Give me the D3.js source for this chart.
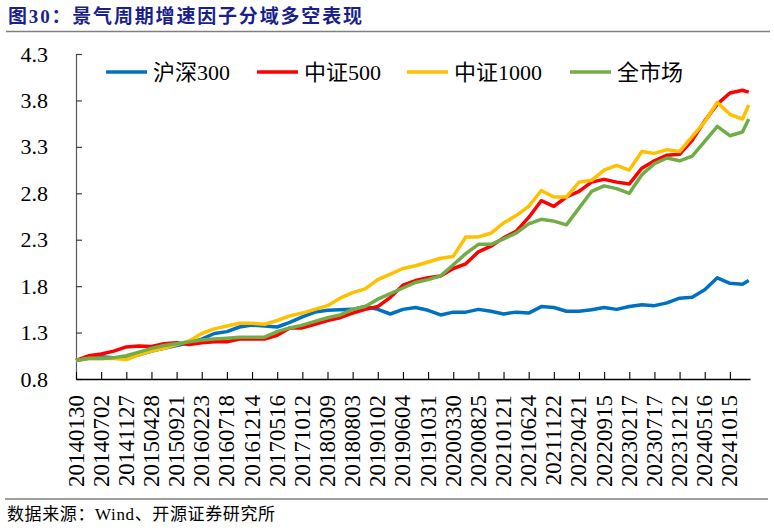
<!DOCTYPE html>
<html>
<head>
<meta charset="utf-8">
<script src="https://cdn.jsdelivr.net/npm/d3@7"></script>
<style>
  html, body { margin: 0; padding: 0; background: #fff; }
  svg { display: block; }
  text { font-family: "Liberation Serif", "Times New Roman", "Noto Sans CJK SC", serif; }
</style>
</head>
<body>
<svg id="chart" width="774" height="530"></svg>
<script>
// ---------- data ----------
const title = "图30：景气周期增速因子分域多空表现";
const source = "数据来源：Wind、开源证券研究所";

// x-axis tick labels (one every 100 trading days)
const tickLabels = ["20140130","20140702","20141127","20150428","20150921","20160223",
  "20160718","20161214","20170516","20171012","20180309","20180803","20190102","20190604",
  "20191031","20200330","20200825","20210121","20210624","20211122","20220421","20220915",
  "20230217","20230717","20231212","20240516","20241015"];

// trading-day index of each observation (sampled every 50 trading days, last at 2675)
const dayIndex = d3.range(0, 2651, 50).concat([2675]);

const seriesNames = ["沪深300", "中证500", "中证1000", "全市场"];

const hs300 = [1.00,1.03,1.04,1.03,1.03,1.06,1.10,1.13,1.16,1.19,
  1.23,1.29,1.31,1.36,1.38,1.37,1.36,1.41,1.47,1.52,
  1.54,1.545,1.55,1.58,1.55,1.50,1.55,1.57,1.54,1.49,
  1.52,1.52,1.55,1.53,1.50,1.52,1.51,1.58,1.57,1.53,
  1.53,1.545,1.57,1.55,1.58,1.60,1.59,1.62,1.67,1.68,
  1.76,1.89,1.83,1.82,1.86];

const zz500 = [1.00,1.05,1.07,1.10,1.145,1.155,1.15,1.18,1.19,1.17,
  1.19,1.20,1.20,1.23,1.23,1.23,1.27,1.35,1.35,1.39,
  1.43,1.46,1.51,1.55,1.58,1.68,1.81,1.86,1.89,1.91,
  1.99,2.04,2.17,2.23,2.32,2.39,2.54,2.72,2.66,2.76,
  2.82,2.92,2.95,2.92,2.90,3.07,3.15,3.21,3.22,3.37,
  3.58,3.76,3.88,3.91,3.89];

const zz1000 = [1.00,1.02,1.02,1.02,1.01,1.06,1.10,1.13,1.17,1.21,
  1.29,1.34,1.37,1.40,1.40,1.39,1.43,1.48,1.51,1.55,
  1.59,1.67,1.73,1.77,1.87,1.93,1.99,2.02,2.06,2.10,
  2.12,2.33,2.33,2.37,2.48,2.56,2.66,2.83,2.76,2.76,
  2.92,2.94,3.05,3.10,3.05,3.25,3.23,3.27,3.25,3.41,
  3.57,3.78,3.65,3.60,3.75];

const allMarket = [1.00,1.02,1.02,1.03,1.05,1.09,1.13,1.16,1.18,1.20,
  1.22,1.23,1.24,1.25,1.25,1.25,1.31,1.35,1.38,1.42,
  1.46,1.49,1.55,1.58,1.66,1.72,1.78,1.84,1.87,1.91,
  2.03,2.15,2.25,2.25,2.31,2.37,2.47,2.52,2.50,2.46,
  2.64,2.82,2.88,2.85,2.80,3.00,3.12,3.18,3.15,3.20,
  3.36,3.52,3.42,3.46,3.60];

const yTicks = [0.8, 1.3, 1.8, 2.3, 2.8, 3.3, 3.8, 4.3];
const colors = ["#0070C0", "#FF0000", "#FFC000", "#70AD47"];

// ---------- layout ----------
const svg = d3.select("#chart");
const plot = { left: 76, right: 750, top: 54, bottom: 379 };
const tickStep = 100;

const x = d3.scaleLinear().domain([0, 2680]).range([plot.left, plot.right]);
const y = d3.scaleLinear().domain([0.8, 4.3]).range([plot.bottom, plot.top]);

// title
svg.append("text")
  .attr("x", 8).attr("y", 23)
  .attr("fill", "#1B1F8A")
  .attr("font-size", 19).attr("font-weight", "bold")
  .attr("textLength", 354).attr("lengthAdjust", "spacing")
  .text(title);

svg.append("line").attr("x1", 6).attr("x2", 770).attr("y1", 31.5).attr("y2", 31.5)
  .attr("stroke", "#7f7f7f").attr("stroke-width", 1.5);

// y axis
const yAxis = d3.axisRight(y).tickValues(yTicks).tickSize(6).tickFormat("");
const gy = svg.append("g").attr("transform", `translate(${plot.left},0)`).call(yAxis);
gy.select(".domain").attr("stroke", "#595959").attr("stroke-width", 1.2);
gy.selectAll(".tick line").attr("stroke", "#404040").attr("stroke-width", 1.2);

svg.append("g").selectAll("text").data(yTicks).join("text")
  .attr("x", 48).attr("y", d => y(d))
  .attr("text-anchor", "end").attr("dominant-baseline", "central")
  .attr("font-size", 22).attr("fill", "#000")
  .text(d => d.toFixed(1));

// x axis
const xTickVals = tickLabels.map((_, i) => i * tickStep);
const xAxis = d3.axisTop(x).tickValues(xTickVals).tickSize(7).tickFormat("").tickSizeOuter(0);
const gx = svg.append("g").attr("transform", `translate(0,${plot.bottom})`).call(xAxis);
gx.select(".domain").attr("stroke", "#000").attr("stroke-width", 1.3);
gx.selectAll(".tick line").attr("stroke", "#000").attr("stroke-width", 1.1);

svg.append("g").selectAll("text").data(tickLabels).join("text")
  .attr("transform", (d, i) => `translate(${x(i * tickStep)},395) rotate(-90)`)
  .attr("text-anchor", "end").attr("dominant-baseline", "central")
  .attr("font-size", 23).attr("fill", "#000")
  .text(d => d);

// lines
const allSeries = [hs300, zz500, zz1000, allMarket];
const line = d3.line().x((d, i) => x(dayIndex[i])).y(d => y(d)).curve(d3.curveLinear);
svg.append("g").selectAll("path").data(allSeries).join("path")
  .attr("d", d => line(d))
  .attr("fill", "none")
  .attr("stroke", (d, i) => colors[i])
  .attr("stroke-width", 3.5)
  .attr("stroke-linejoin", "round");

// legend
const legendX = [106, 257, 407, 570];
const lg = svg.append("g").selectAll("g").data(seriesNames).join("g")
  .attr("transform", (d, i) => `translate(${legendX[i]},72)`);
lg.append("line").attr("x1", 0).attr("x2", 41).attr("y1", 0).attr("y2", 0)
  .attr("stroke", (d, i) => colors[i]).attr("stroke-width", 3.5);
lg.append("text").attr("x", 47).attr("y", 0)
  .attr("dominant-baseline", "central")
  .attr("font-size", 22).attr("fill", "#000")
  .text(d => d);

// footer
svg.append("line").attr("x1", 5).attr("x2", 768).attr("y1", 499).attr("y2", 499)
  .attr("stroke", "#7f7f7f").attr("stroke-width", 1.5);
svg.append("text").attr("x", 7).attr("y", 520)
  .attr("font-size", 17).attr("fill", "#000")
  .attr("textLength", 268).attr("lengthAdjust", "spacing")
  .text(source);
</script>
</body>
</html>
